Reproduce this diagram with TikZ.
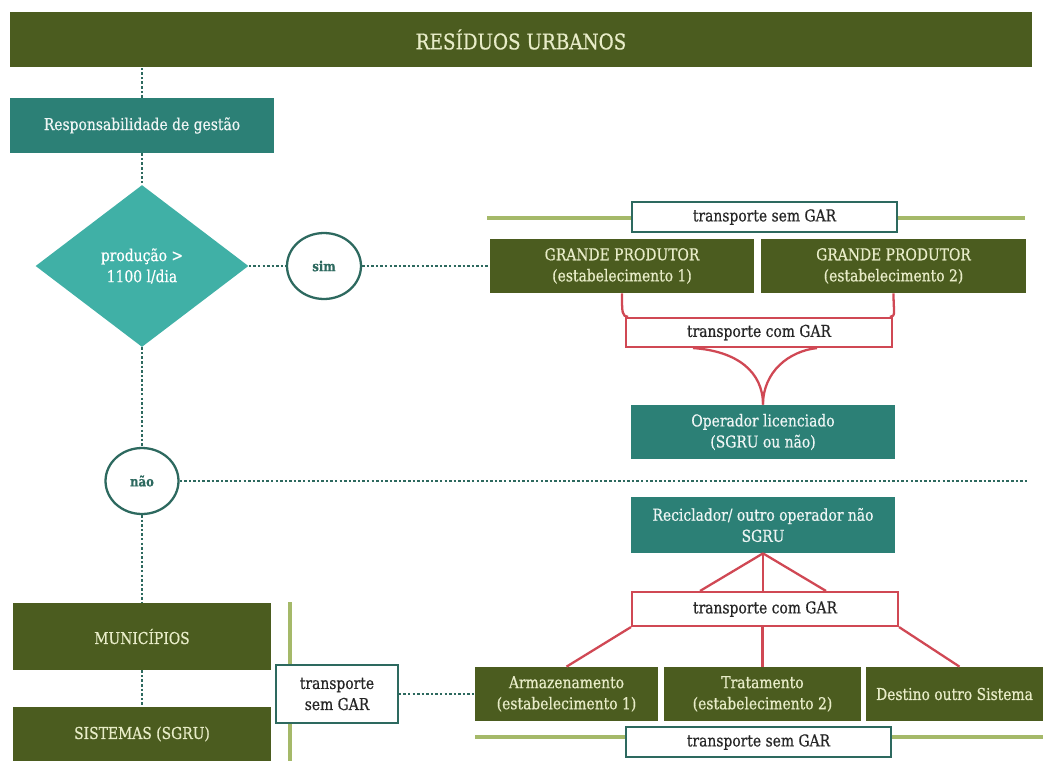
\documentclass[tikz,border=0pt]{standalone}
\usepackage{fontspec}
\setmainfont{DejaVu Serif}[FakeStretch=0.85,FakeBold=0.6]
\usetikzlibrary{shapes.geometric}

\definecolor{darkolive}{RGB}{75,92,31}
\definecolor{petrol}{RGB}{44,128,118}
\definecolor{diateal}{RGB}{64,176,166}
\definecolor{circteal}{RGB}{45,105,95}
\definecolor{garred}{RGB}{208,72,84}
\definecolor{railgreen}{RGB}{165,185,105}
\definecolor{creamtext}{RGB}{232,236,200}

\begin{document}
\begin{tikzpicture}[x=0.02cm,y=-0.02cm]
\tikzset{dotline/.style={draw=circteal,line width=1.6pt,dash pattern=on 1.4pt off 1.2pt},
	garline/.style={draw=garred,line width=1.3pt},
	rail/.style={draw=railgreen,line width=2pt},
	box/.style={rectangle,inner sep=0pt,align=center,font=\fontsize{9.3}{12}\selectfont},
	olivebox/.style={box,fill=darkolive,text=creamtext},
	petrolbox/.style={box,fill=petrol,text=white!92!petrol},
	semgar/.style={box,fill=white,draw=circteal,line width=1pt,text=black!85},
	comgar/.style={box,fill=white,draw=garred,line width=1.2pt,text=black!85},
	answer/.style={ellipse,draw=circteal,line width=1.3pt,fill=white,inner sep=0pt,text=circteal,font=\fontsize{7.8}{9}\selectfont\bfseries}}
\useasboundingbox (0,0) rectangle (1043,761);

% rails
\coordinate (railtop w) at (487,218);
\coordinate (railtop e) at (1025,218);
\coordinate (railleft n) at (290,602);
\coordinate (railleft s) at (290,761);
\coordinate (railbot w) at (475,737);
\coordinate (railbot e) at (1043,737);
\draw[rail] (railtop w) -- (railtop e);
\draw[rail] (railleft n) -- (railleft s);
\draw[rail] (railbot w) -- (railbot e);

% left column
\node[olivebox,minimum width=20.44cm,minimum height=1.1cm,font=\fontsize{12.3}{14}\selectfont] (title) at (521,39.5) {RESÍDUOS URBANOS};
\node[petrolbox,minimum width=5.28cm,minimum height=1.1cm] (resp) at (142,125.5) {Responsabilidade de gestão};
\node[diamond,fill=diateal,text=white,inner sep=0pt,align=center,minimum width=4.26cm,minimum height=3.24cm,font=\fontsize{9.3}{12}\selectfont] (dia) at (142,266) {produção >\\1100 l/dia};
\node[answer,minimum width=1.48cm,minimum height=1.32cm] (sim) at (324,266) {sim};
\node[answer,minimum width=1.46cm,minimum height=1.32cm] (nao) at (142,481) {não};
\node[olivebox,minimum width=5.18cm,minimum height=1.34cm] (mun) at (142,636.5) {MUNICÍPIOS};
\node[olivebox,minimum width=5.18cm,minimum height=1.08cm] (sis) at (142,734) {SISTEMAS (SGRU)};
\node[semgar,minimum width=2.44cm,minimum height=1.16cm] (tsg2) at (337,694) {transporte\\sem GAR};

% grande produtor
\node[semgar,minimum width=5.3cm,minimum height=0.6cm] (tsg1) at (764.5,217) {transporte sem GAR};
\node[olivebox,minimum width=5.28cm,minimum height=1.08cm] (gp1) at (622,266) {GRANDE PRODUTOR\\(estabelecimento 1)};
\node[olivebox,minimum width=5.3cm,minimum height=1.08cm] (gp2) at (893.5,266) {GRANDE PRODUTOR\\(estabelecimento 2)};
\node[comgar,minimum width=5.32cm,minimum height=0.58cm] (tcg1) at (759,332.5) {transporte com GAR};
\node[petrolbox,minimum width=5.28cm,minimum height=1.08cm] (op) at (763,432) {Operador licenciado\\(SGRU ou não)};

% reciclador
\node[petrolbox,minimum width=5.28cm,minimum height=1.12cm] (rec) at (763,525) {Reciclador/ outro operador não\\SGRU};
\node[comgar,minimum width=5.32cm,minimum height=0.68cm] (tcg2) at (765,609) {transporte com GAR};
\foreach \n/\x/\w/\t in {arm/566.5/3.66/{Armazenamento\\(estabelecimento 1)},tra/762.5/3.94/{Tratamento\\(estabelecimento 2)},des/954.5/3.54/{Destino outro Sistema}}{%
	\node[olivebox,minimum width=\w cm,minimum height=1.08cm] (\n) at (\x,694) {\t};
}%
\node[semgar,minimum width=5.3cm,minimum height=0.6cm] (tsg3) at (758.5,742) {transporte sem GAR};

% dotted links
\coordinate (naoend) at (1027,481);
\draw[dotline] (resp.north) -- (resp.north |- title.south);
\draw[dotline] (resp) -- (dia);
\draw[dotline] (dia) -- (sim);
\draw[dotline] (sim) -- (gp1);
\draw[dotline] (dia) -- (nao);
\draw[dotline] (nao) -- (naoend);
\draw[dotline] (nao) -- (mun);
\draw[dotline] (mun) -- (sis);
\draw[dotline] (tsg2) -- (arm);

% GAR links
\draw[garline] (gp1.south) .. controls ([yshift=-0.4cm]gp1.south) and ([xshift=-0.06cm,yshift=0.02cm]tcg1.north west) .. ([xshift=0.06cm]tcg1.north west);
\draw[garline] (gp2.south) .. controls ([yshift=-0.4cm]gp2.south) and ([xshift=0.06cm,yshift=0.02cm]tcg1.north east) .. ([xshift=-0.06cm]tcg1.north east);
\draw[garline] ([xshift=-1.32cm]tcg1.south) .. controls ([xshift=-0.44cm,yshift=-0.06cm]tcg1.south) and ([yshift=0.66cm]op.north) .. (op.north);
\draw[garline] ([xshift=1.16cm]tcg1.south) .. controls ([xshift=0.6cm,yshift=-0.06cm]tcg1.south) and ([yshift=0.66cm]op.north) .. (op.north);
\draw[garline] (rec.south) -- ([xshift=-1.3cm]tcg2.north);
\draw[garline] (rec.south) -- (rec.south |- tcg2.north);
\draw[garline] (rec.south) -- ([xshift=1.22cm]tcg2.north);
\draw[garline] (tcg2.south west) -- (arm.north);
\draw[garline] (tcg2.south -| tra.north) -- (tra.north);
\draw[garline] (tcg2.south east) -- ([xshift=0.1cm]des.north);
\end{tikzpicture}
\end{document}
